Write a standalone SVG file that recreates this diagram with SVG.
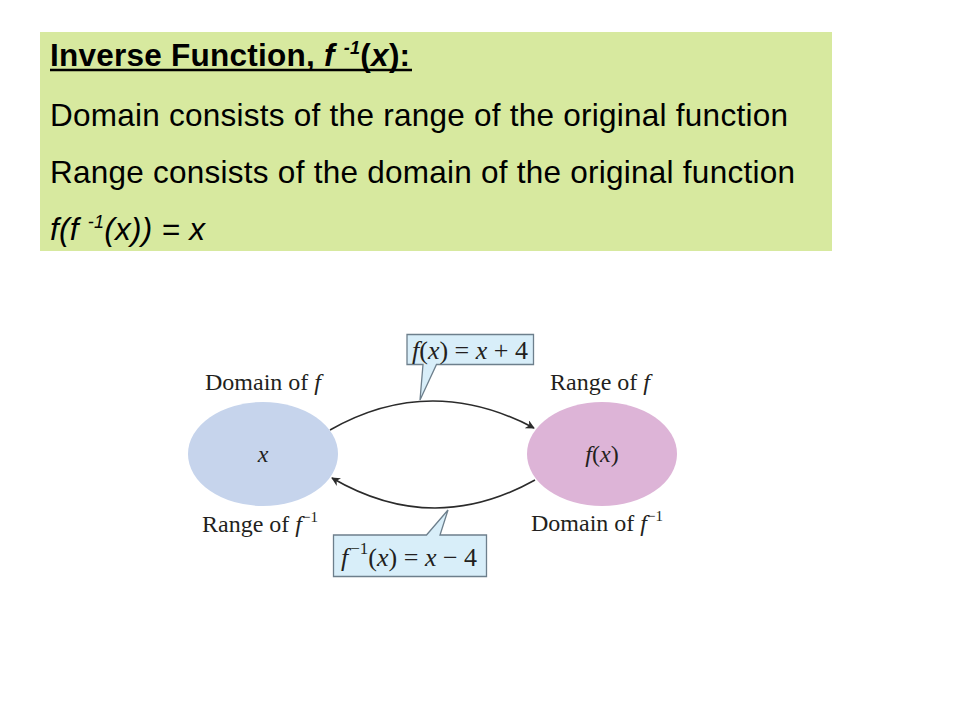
<svg xmlns="http://www.w3.org/2000/svg" width="960" height="720" viewBox="0 0 960 720">
<defs>
<style>
.hd{font-family:"Liberation Sans",Arial,sans-serif;font-size:31.5px;fill:#000;letter-spacing:0.25px}
.lb{font-family:"Liberation Serif","Times New Roman",serif;font-size:24px;fill:#231f20}
.cl{font-family:"Liberation Serif","Times New Roman",serif;font-size:26px;fill:#231f20}
.it{font-style:italic}
.arc{fill:none;stroke:#2b2b2b;stroke-width:1.6}
.call{fill:#d8eef9;stroke:#6d7f8c;stroke-width:1.3}
</style>
<marker id="ah" viewBox="0 0 10 10" refX="9" refY="5" markerWidth="9" markerHeight="9" markerUnits="userSpaceOnUse" orient="auto">
<path d="M0,0 L10,5 L0,10 L3,5 Z" fill="#2b2b2b"/>
</marker>
</defs>
<rect width="960" height="720" fill="#fff"/>
<g id="infobox">
<rect x="40" y="32" width="792" height="219" fill="#d7e99f"/>
<text class="hd" x="50" y="66" font-weight="bold">Inverse Function, <tspan class="it">f</tspan> <tspan class="it" font-size="18" dy="-12">-1</tspan><tspan dy="12">(</tspan><tspan class="it">x</tspan>):</text>
<line x1="50" y1="70" x2="412" y2="70" stroke="#000" stroke-width="2.4"/>
<text class="hd" x="50" y="126">Domain consists of the range of the original function</text>
<text class="hd" x="50" y="183">Range consists of the domain of the original function</text>
<text class="hd it" x="50" y="240">f(f <tspan font-size="18" dy="-12">-1</tspan><tspan dy="12">(x)) = x</tspan></text>
</g>
<g id="connectors">
<path class="arc" d="M330,430 Q430,373 534,428" marker-end="url(#ah)"/>
<path class="arc" d="M535,480 Q433,537 332,478" marker-end="url(#ah)"/>
</g>
<g id="domain-node">
<ellipse cx="263" cy="454" rx="75" ry="52" fill="#c6d4ec"/>
<text class="lb it" x="263" y="462" text-anchor="middle">x</text>
<text class="lb" x="205" y="390">Domain of <tspan class="it">f</tspan></text>
<text class="lb" x="202" y="532">Range of <tspan class="it">f</tspan><tspan font-size="15" dy="-10">−1</tspan></text>
</g>
<g id="range-node">
<ellipse cx="602" cy="454" rx="75" ry="52" fill="#ddb4d7"/>
<text class="lb" x="602" y="462" text-anchor="middle"><tspan class="it">f</tspan>(<tspan class="it">x</tspan>)</text>
<text class="lb" x="550" y="390">Range of <tspan class="it">f</tspan></text>
<text class="lb" x="531" y="531">Domain of <tspan class="it">f</tspan><tspan font-size="15" dy="-10">−1</tspan></text>
</g>
<g id="callout-f">
<path class="call" d="M407,334.5 H533.5 V364.5 H436.5 L420,400 L423,364.5 H407 Z"/>
<text class="cl" x="412" y="359"><tspan class="it">f</tspan>(<tspan class="it">x</tspan>) = <tspan class="it">x</tspan> + 4</text>
</g>
<g id="callout-finv">
<path class="call" d="M333.5,535 H426.5 L448,510 L440,535 H486.5 V576.5 H333.5 Z"/>
<text class="cl" x="341" y="566"><tspan class="it">f</tspan><tspan font-size="17" dx="2" dy="-12">−1</tspan><tspan dy="12">(</tspan><tspan class="it">x</tspan>) = <tspan class="it">x</tspan> − 4</text>
</g>
</svg>
